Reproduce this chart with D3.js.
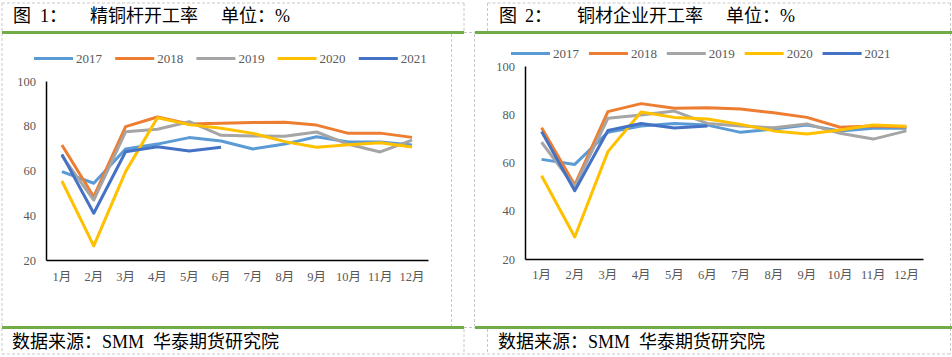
<!DOCTYPE html>
<html>
<head>
<meta charset="utf-8">
<script src="https://cdn.jsdelivr.net/npm/d3@7"></script>
<style>
  html, body { margin: 0; padding: 0; background: #fff; }
  svg { display: block; }
  text { font-family: "Liberation Serif", "Noto Sans CJK SC", serif; }
</style>
</head>
<body>
<svg id="chart" width="952" height="357"></svg>
<script>
// ---------- data ----------
const months = ["1月","2月","3月","4月","5月","6月","7月","8月","9月","10月","11月","12月"];
const years = ["2017","2018","2019","2020","2021"];
const colors = ["#5B9BD5","#ED7D31","#A5A5A5","#FFC000","#4472C4"];
const yTicks = [20, 40, 60, 80, 100];

// 图1 精铜杆开工率 (%)
const rod2017 = [59.5, 54.3, 69.6, 71.8, 74.7, 73.2, 69.6, 71.8, 75.1, 72.7, 72.7, 71.4];
const rod2018 = [71.4, 48.3, 79.6, 83.9, 80.8, 81.1, 81.5, 81.6, 80.3, 76.6, 76.7, 74.8];
const rod2019 = [66.5, 46.8, 77.3, 78.4, 81.8, 75.7, 75.4, 75.3, 77.2, 71.7, 68.3, 73.6];
const rod2020 = [55.3, 26.3, 59.5, 83.6, 80.5, 78.9, 76.6, 72.9, 70.4, 71.5, 72.4, 70.5];
const rod2021 = [67.2, 40.9, 68.4, 70.6, 68.7, 70.4, null, null, null, null, null, null];

// 图2 铜材企业开工率 (%)
const mat2017 = [61.3, 59.2, 72.5, 75.1, 76.2, 75.5, 72.5, 73.9, 75.5, 73.1, 74.2, 74.2];
const mat2018 = [74.4, 50.7, 81.1, 84.4, 82.5, 82.7, 82.2, 80.6, 78.7, 74.6, 75.1, 74.7];
const mat2019 = [68.4, 50.0, 78.3, 79.7, 81.3, 76.2, 75.1, 74.4, 76.0, 72.1, 69.7, 73.1];
const mat2020 = [54.5, 29.1, 64.5, 80.9, 78.7, 78.0, 75.8, 73.1, 71.8, 73.5, 75.5, 75.0];
const mat2021 = [72.8, 48.3, 73.3, 76.2, 74.3, 75.1, null, null, null, null, null, null];

const title1 = ["图", "1：", "精铜杆开工率", "单位：%"];
const title2 = ["图", "2：", "铜材企业开工率", "单位：%"];
const sourceText = "数据来源：SMM  华泰期货研究院";

// ---------- frame ----------
const svg = d3.select("#chart");
const GREEN = "#70AD47";
const DASH = "#C8C8C8";

function dashed(x1, y1, x2, y2) {
  svg.append("line").attr("x1", x1).attr("y1", y1).attr("x2", x2).attr("y2", y2)
    .attr("stroke", DASH).attr("stroke-width", 1).attr("stroke-dasharray", "3,2");
}
// panel 1 borders
dashed(2, 3, 464, 3);
dashed(2, 3, 2, 354);
dashed(464, 3, 464, 32);
dashed(451.5, 34, 451.5, 326);
dashed(464, 329, 464, 354);
dashed(2, 354, 952, 354);
dashed(464, 32.5, 475, 32.5);
dashed(464, 327.5, 475, 327.5);
// panel 2 borders
dashed(487.5, 3, 951, 3);
dashed(487.5, 3, 487.5, 32);
dashed(474.5, 34, 474.5, 326);
dashed(487.5, 329, 487.5, 354);
dashed(950.5, 3, 950.5, 354);

// green rules
[[2, 464], [475, 952]].forEach(([a, b]) => {
  svg.append("rect").attr("x", a).attr("y", 31).attr("width", b - a).attr("height", 3).attr("fill", GREEN);
  svg.append("rect").attr("x", a).attr("y", 326).attr("width", b - a).attr("height", 3).attr("fill", GREEN);
});

// titles
function drawTitle(parts, xs) {
  parts.forEach((p, i) => {
    svg.append("text").attr("x", xs[i]).attr("y", 22)
      .attr("font-size", 18).attr("fill", "#000").text(p);
  });
}
drawTitle(title1, [13, 40, 90, 221]);
drawTitle(title2, [499, 525, 577, 726]);

// footers
[12, 498].forEach(x => {
  svg.append("text").attr("x", x).attr("y", 348).attr("font-size", 18)
    .attr("fill", "#000").attr("xml:space", "preserve").text(sourceText);
});

// ---------- charts ----------
function drawChart(cfg) {
  const g = svg.append("g");
  const x = d3.scaleBand().domain(months).range([cfg.x0, cfg.x1]).padding(0);
  const y = d3.scaleLinear().domain([20, 100]).range([cfg.yBottom, cfg.yTop]);

  // legend
  years.forEach((yr, i) => {
    const lx = cfg.legX + i * cfg.legStep;
    g.append("line").attr("x1", lx).attr("x2", lx + 39)
      .attr("y1", cfg.legY).attr("y2", cfg.legY)
      .attr("stroke", colors[i]).attr("stroke-width", 3);
    g.append("text").attr("x", lx + 42).attr("y", cfg.legY)
      .attr("dy", "0.35em").attr("font-size", 13).attr("fill", "#595959").text(yr);
  });

  // axes
  const yAxis = g.append("g").attr("transform", `translate(${cfg.x0},0)`)
    .call(d3.axisLeft(y).tickValues(yTicks).tickSize(0).tickPadding(10));
  yAxis.select(".domain").attr("stroke", "#000").attr("stroke-width", 1.5);
  yAxis.selectAll("text").attr("font-size", 12.5).attr("fill", "#595959")
    .attr("font-family", "Liberation Serif, Noto Sans CJK SC, serif");

  const xAxis = g.append("g").attr("transform", `translate(0,${cfg.yBottom})`)
    .call(d3.axisBottom(x).tickSize(0).tickPadding(cfg.xPad));
  xAxis.select(".domain").attr("stroke", "#000").attr("stroke-width", 1.5);
  xAxis.selectAll("text").attr("font-size", 12.5).attr("fill", "#595959")
    .attr("font-family", "Liberation Serif, Noto Sans CJK SC, serif");

  // lines
  const line = d3.line()
    .defined(d => d.v != null)
    .x(d => x(d.m) + x.bandwidth() / 2)
    .y(d => y(d.v));
  cfg.series.forEach((vals, i) => {
    const pts = vals.map((v, k) => ({ m: months[k], v }));
    g.append("path").datum(pts).attr("d", line)
      .attr("fill", "none").attr("stroke", colors[i]).attr("stroke-width", 3)
      .attr("stroke-linejoin", "round");
  });
}

drawChart({
  x0: 46, x1: 428, yTop: 81, yBottom: 260, xPad: 12.5,
  legX: 34, legStep: 81.2, legY: 58.5,
  series: [rod2017, rod2018, rod2019, rod2020, rod2021]
});
drawChart({
  x0: 525, x1: 923, yTop: 66, yBottom: 259, xPad: 11.5,
  legX: 511, legStep: 77.9, legY: 53.5,
  series: [mat2017, mat2018, mat2019, mat2020, mat2021]
});
</script>
</body>
</html>
